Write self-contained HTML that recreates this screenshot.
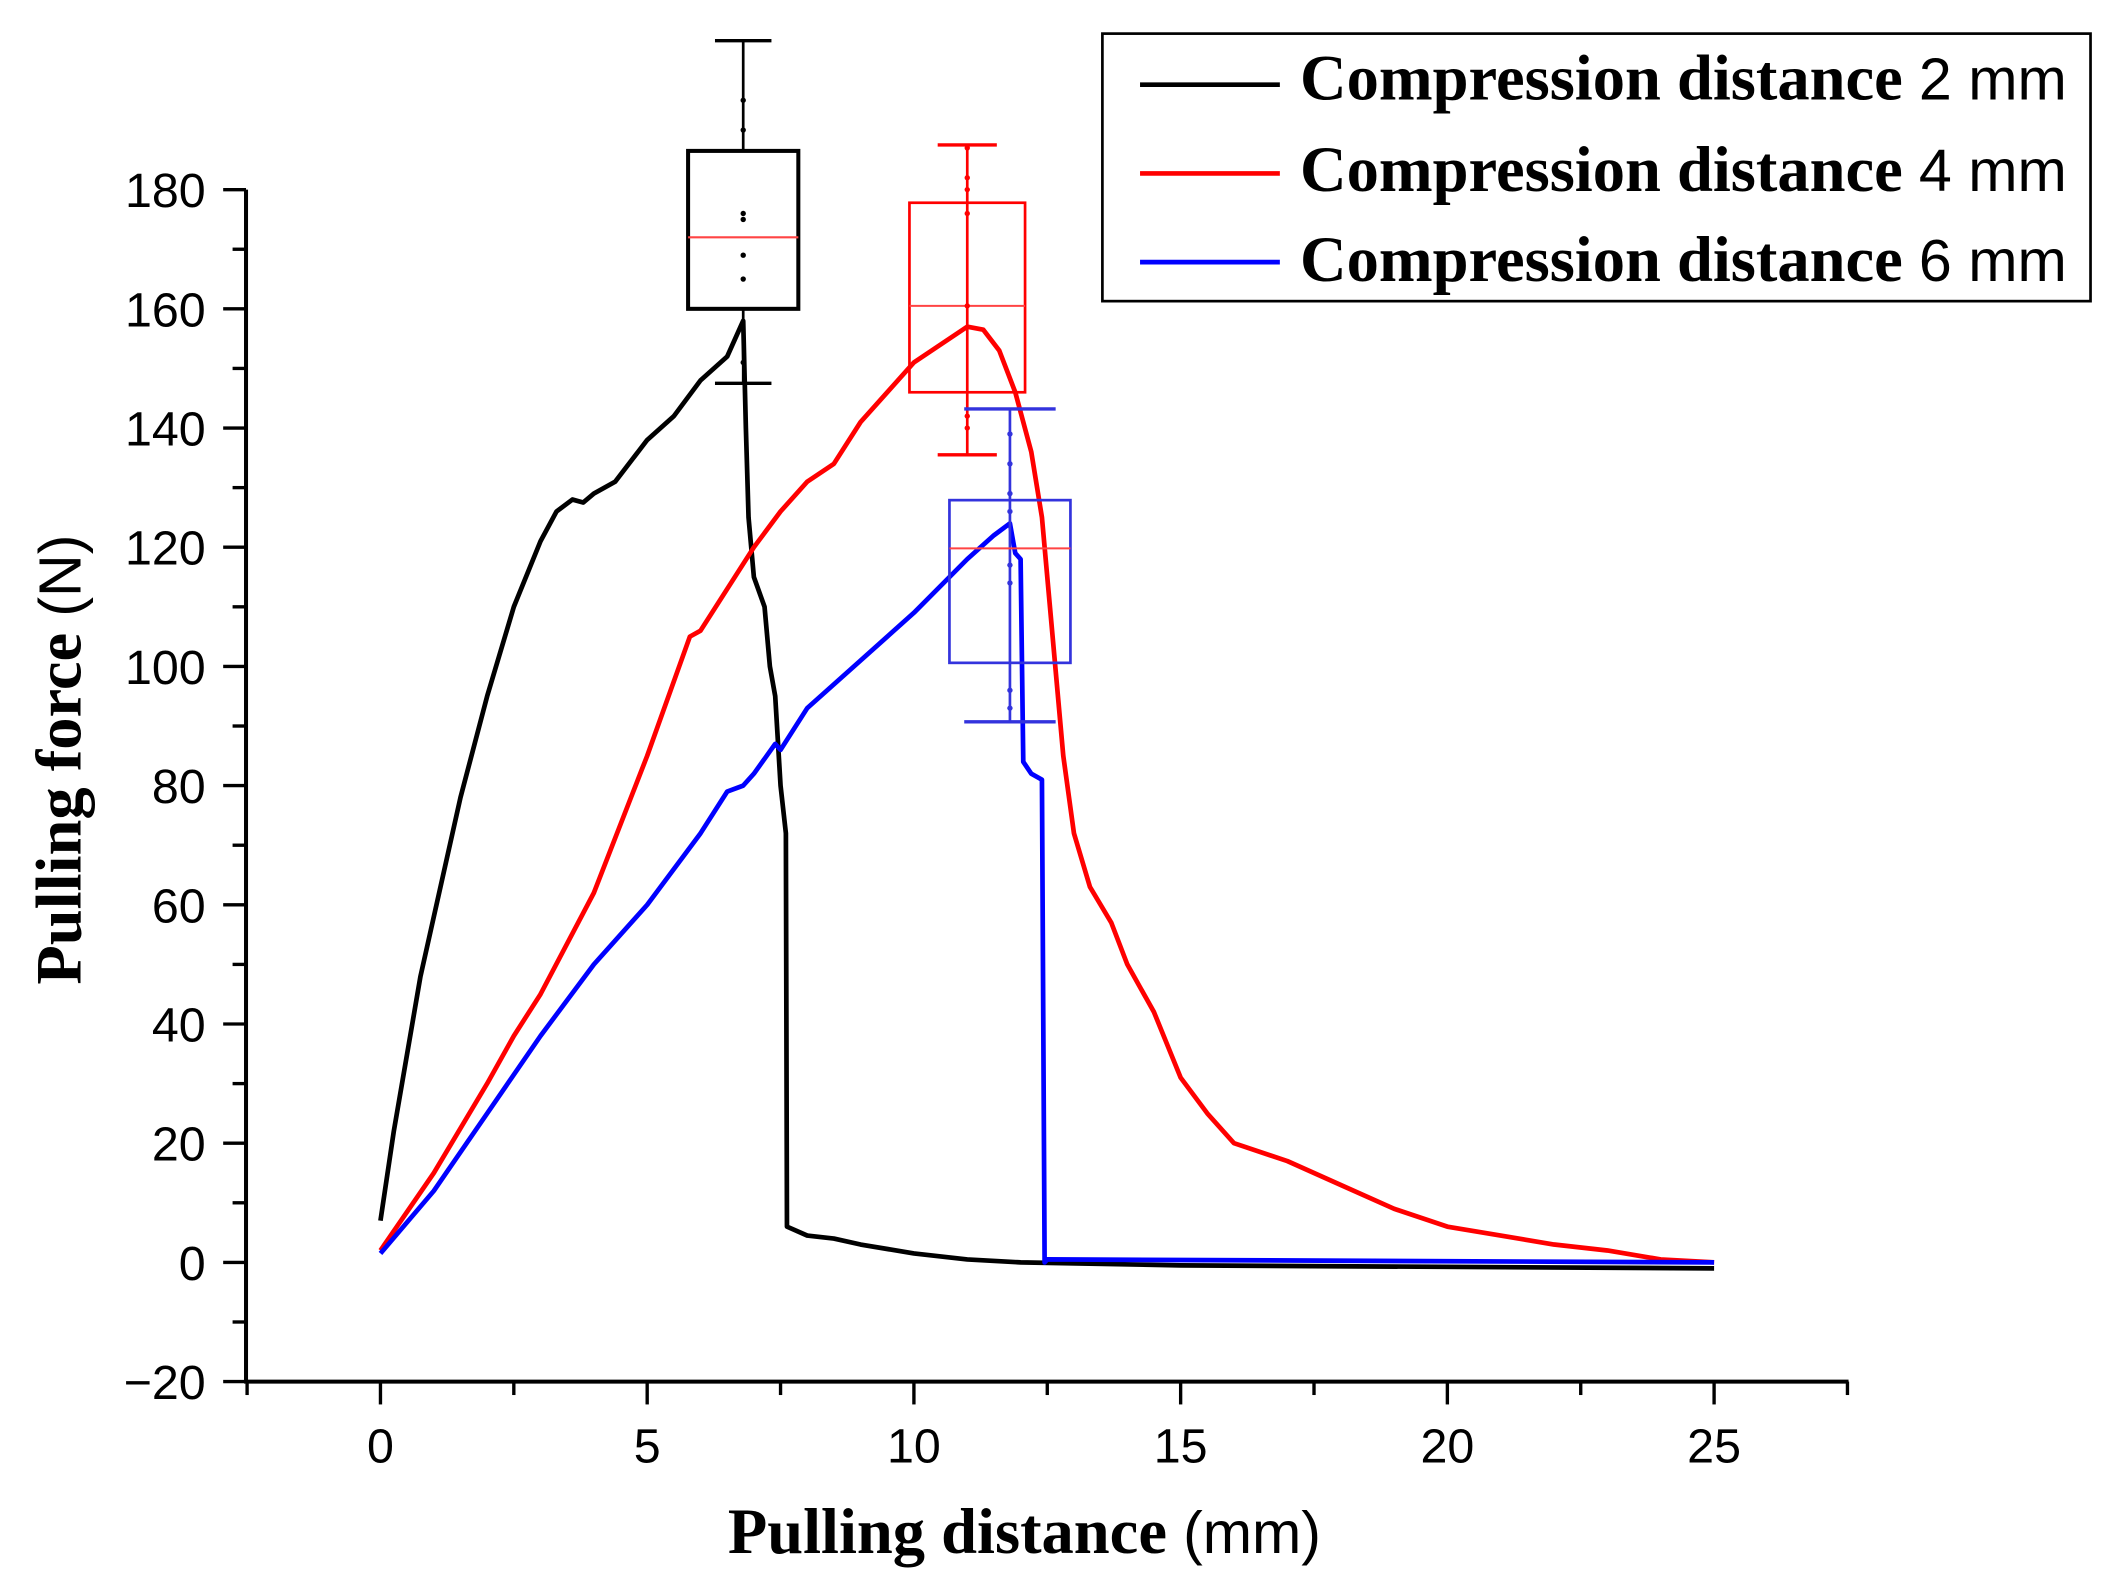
<!DOCTYPE html>
<html><head><meta charset="utf-8"><style>
html,body{margin:0;padding:0;background:#fff;}
svg{display:block;}
.tk{font-family:"Liberation Sans",sans-serif;font-size:36px;fill:#000;}
.ser{font-family:"Liberation Serif",serif;font-weight:bold;font-size:48px;fill:#000;}
.san{font-family:"Liberation Sans",sans-serif;font-size:44px;fill:#000;}
</style></head><body>
<svg id="chart" width="2108" height="1595" viewBox="0 0 1568 1186.4" preserveAspectRatio="none" xmlns="http://www.w3.org/2000/svg">
<g id="axes"></g>
<g id="series"></g>
<g id="boxes"></g>
<text class="ser" x="762" y="1155" text-anchor="middle">Pulling distance <tspan class="san" style="font-weight:normal">(mm)</tspan></text>
<text class="ser" transform="translate(60,565) rotate(-90)" text-anchor="middle">Pulling force <tspan class="san" style="font-weight:normal">(N)</tspan></text>
<g>
<rect x="820" y="25" width="735" height="199" fill="#fff" stroke="#000" stroke-width="2"/>
<g><line x1="848" y1="63" x2="952" y2="63" stroke="#000" stroke-width="3.5"/><text class="ser" x="967" y="74">Compression distance <tspan class="san" style="font-weight:normal">2 mm</tspan></text></g>
<g><line x1="848" y1="129" x2="952" y2="129" stroke="#f00" stroke-width="3.5"/><text class="ser" x="967" y="142">Compression distance <tspan class="san" style="font-weight:normal">4 mm</tspan></text></g>
<g><line x1="848" y1="195" x2="952" y2="195" stroke="#00f" stroke-width="3.5"/><text class="ser" x="967" y="209">Compression distance <tspan class="san" style="font-weight:normal">6 mm</tspan></text></g>
</g>
</svg>
<script>
const xTicks=[0,5,10,15,20,25];
const yTicks=[-20,0,20,40,60,80,100,120,140,160,180];
const s2x=[0,0.25,0.5,0.75,1,1.5,2,2.5,3,3.3,3.6,3.8,4,4.4,5,5.5,6,6.5,6.8,6.85,6.9,7,7.2,7.3,7.4,7.5,7.6,7.62,8,8.5,9,10,11,12,15,25];
const s2y=[7,22,35,48,58,78,95,110,121,126,128,127.5,129,131,138,142,148,152,158,140,125,115,110,100,95,80,72,6,4.5,4,3,1.5,0.5,0,-0.5,-1];
const s4x=[0,1,2,2.5,3,4,5,5.8,6,7,7.5,8,8.5,9,10,10.5,11,11.3,11.6,11.9,12.2,12.4,12.6,12.8,13,13.3,13.7,14,14.5,15,15.5,16,17,18,19,20,21,22,23,24,25];
const s4y=[2,15,30,38,45,62,85,105,106,120,126,131,134,141,151,154,157,156.5,153,146,136,125,105,85,72,63,57,50,42,31,25,20,17,13,9,6,4.5,3,2,0.5,0];
const s6x=[0,1,2,3,4,5,6,6.5,6.8,7,7.4,7.5,8,9,10,11,11.5,11.8,11.9,12,12.05,12.2,12.4,12.45,12.5,25];
const s6y=[1.5,12,25,38,50,60,72,79,80,82,87,86,93,101,109,118,122,124,119,118,84,82,81,0,0.5,0];
const boxNames=['box-2mm','box-4mm','box-6mm'];
const boxX=[6.8,11.0,11.8];
const boxQ1=[160,146,100.6];
const boxQ3=[186.5,177.8,127.9];
const boxMed=[172,160.5,119.8];
const boxWhiskHi=[205,187.5,143.2];
const boxWhiskLo=[147.5,135.5,90.7];
const boxPts=[[165,169,175,176,190,195,151],[176,180,160.5,142,140,187,182],[134,129,126,117,114,96,93,139]];
const boxColors=['#000','#f00','#3333dd'];
const NS='http://www.w3.org/2000/svg';
const X=v=>283+(v*39.68);
const Y=v=>939-(v*4.433);
function mk(p,t,a){const e=document.createElementNS(NS,t);for(const k in a)e.setAttribute(k,a[k]);p.appendChild(e);return e;}
const ax=document.getElementById('axes');
let l=mk(ax,'line',{x1:183,y1:Y(-20),x2:1375,y2:Y(-20),stroke:'#000','stroke-width':3});


l=mk(ax,'line',{x1:183,y1:Y(180),x2:183,y2:Y(-20)+1.5,stroke:'#000','stroke-width':3});


for(let v=-2.5;v<=27.5+1e-6;v+=2.5){const maj=Math.abs(v/5-Math.round(v/5))<1e-6;mk(ax,'line',{x1:X(v),y1:Y(-20),x2:X(v),y2:Y(-20)+(maj?17:10),stroke:'#000','stroke-width':2.5});}
for(let v=-20;v<=180;v+=10){const maj=v%20===0;mk(ax,'line',{x1:183,y1:Y(v),x2:183-(maj?17:10),y2:Y(v),stroke:'#000','stroke-width':2.5});}
xTicks.forEach(v=>{const t=mk(ax,'text',{class:'tk',x:X(v),y:1088,'text-anchor':'middle'});t.textContent=v;

});
yTicks.forEach(v=>{const t=mk(ax,'text',{class:'tk',x:153,y:Y(v)+13,'text-anchor':'end'});t.textContent=v<0?'\u2212'+(-v):v;

});
const sg=document.getElementById('series');
[[s2x,s2y,'#000','series-2mm'],[s4x,s4y,'#f00','series-4mm'],[s6x,s6y,'#00f','series-6mm']].forEach(([xs,ys,c,n])=>{
const p=mk(sg,'polyline',{points:xs.map((x,i)=>X(x)+','+Y(ys[i])).join(' '),fill:'none',stroke:c,'stroke-width':3.5,'stroke-linejoin':'round'});

});
const bg=document.getElementById('boxes');
boxX.forEach((bx,i)=>{const c=boxColors[i];const g=mk(bg,'g',{});


const cx=X(bx),hw=[41,43,45][i],cw=[21,22,34][i],sw=i==0?3:2;
mk(g,'line',{x1:cx,y1:Y(boxWhiskHi[i]),x2:cx,y2:Y(boxWhiskLo[i]),stroke:c,'stroke-width':2});
mk(g,'line',{x1:cx-cw,y1:Y(boxWhiskHi[i]),x2:cx+cw,y2:Y(boxWhiskHi[i]),stroke:c,'stroke-width':2.5});
mk(g,'line',{x1:cx-cw,y1:Y(boxWhiskLo[i]),x2:cx+cw,y2:Y(boxWhiskLo[i]),stroke:c,'stroke-width':2.5});
mk(g,'rect',{x:cx-hw,y:Y(boxQ3[i]),width:2*hw,height:Y(boxQ1[i])-Y(boxQ3[i]),fill:i==0?'#fff':'none',stroke:c,'stroke-width':sw});
mk(g,'line',{x1:cx-hw,y1:Y(boxMed[i]),x2:cx+hw,y2:Y(boxMed[i]),stroke:'#f44','stroke-width':1.5});
boxPts[i].forEach(v=>mk(g,'circle',{cx:cx,cy:Y(v),r:2,fill:c}));
});
</script>
</body></html>
